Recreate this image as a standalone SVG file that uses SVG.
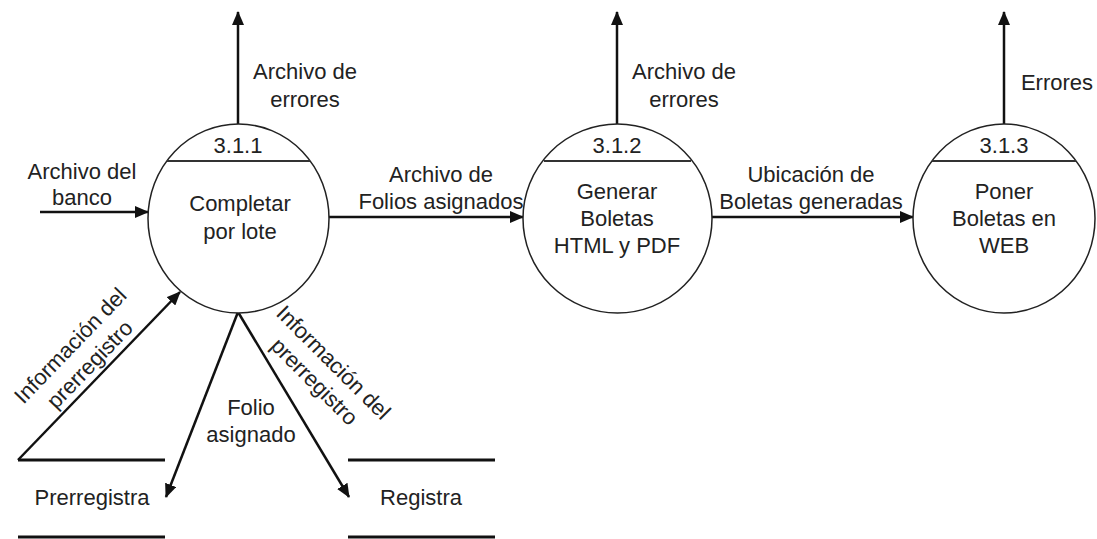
<svg xmlns="http://www.w3.org/2000/svg" width="1097" height="539" viewBox="0 0 1097 539">
<style>
text{font-family:"Liberation Sans",Arial,sans-serif;font-size:22px;fill:#222;text-anchor:middle}
.proc{fill:#fff;stroke:#222;stroke-width:1.5}
.hdr{stroke:#333;stroke-width:2}
.flow{stroke:#111;stroke-width:2.5;fill:none}
.store{stroke:#111;stroke-width:3}
</style>
<defs>
<marker id="ah" markerWidth="14" markerHeight="12" refX="13" refY="6" orient="auto" markerUnits="userSpaceOnUse">
<path d="M0,0 L14,6 L0,12 z" fill="#111"/>
</marker>
</defs>
<g id="connectors">
<line class="flow" x1="238" y1="124" x2="238" y2="12" marker-end="url(#ah)"/>
<line class="flow" x1="617" y1="124" x2="617" y2="12" marker-end="url(#ah)"/>
<line class="flow" x1="1004" y1="124" x2="1004" y2="12" marker-end="url(#ah)"/>
<line class="flow" x1="40" y1="212" x2="148" y2="212" marker-end="url(#ah)"/>
<line class="flow" x1="329" y1="217" x2="523" y2="217" marker-end="url(#ah)"/>
<line class="flow" x1="712" y1="217" x2="913" y2="217" marker-end="url(#ah)"/>
<line class="flow" x1="18" y1="460" x2="180" y2="292" marker-end="url(#ah)"/>
<line class="flow" x1="238" y1="312" x2="166" y2="497" marker-end="url(#ah)"/>
<line class="flow" x1="238" y1="312" x2="349" y2="497" marker-end="url(#ah)"/>
<text x="305" y="79">Archivo de</text>
<text x="305" y="107">errores</text>
<text x="684" y="79">Archivo de</text>
<text x="684" y="107">errores</text>
<text x="1057" y="90">Errores</text>
<text x="82" y="179">Archivo del</text>
<text x="82" y="205">banco</text>
<text x="441" y="182">Archivo de</text>
<text x="441" y="209">Folios asignados</text>
<text x="811" y="182">Ubicación de</text>
<text x="811" y="209">Boletas generadas</text>
<text x="251" y="415">Folio</text>
<text x="251" y="442">asignado</text>
<g transform="translate(80,355) rotate(-46)">
<text x="0" y="-6">Información del</text>
<text x="0" y="21">prerregistro</text>
</g>
<g transform="translate(324,372) rotate(45)">
<text x="0" y="-6">Información del</text>
<text x="0" y="21">prerregistro</text>
</g>
</g>
<g id="p311">
<ellipse class="proc" cx="238.5" cy="218.5" rx="90.5" ry="94.5"/>
<line class="hdr" x1="167" y1="161" x2="310" y2="161"/>
<text x="238" y="153">3.1.1</text>
<text x="240" y="211">Completar</text>
<text x="240" y="239">por lote</text>
</g>
<g id="p312">
<ellipse class="proc" cx="617.5" cy="218.5" rx="94.5" ry="94.5"/>
<line class="hdr" x1="544" y1="161" x2="691" y2="161"/>
<text x="617" y="153">3.1.2</text>
<text x="617" y="199">Generar</text>
<text x="617" y="226">Boletas</text>
<text x="617" y="253">HTML y PDF</text>
</g>
<g id="p313">
<ellipse class="proc" cx="1004" cy="218.5" rx="91" ry="94.5"/>
<line class="hdr" x1="932" y1="161" x2="1076" y2="161"/>
<text x="1004" y="153">3.1.3</text>
<text x="1004" y="199">Poner</text>
<text x="1004" y="226">Boletas en</text>
<text x="1004" y="253">WEB</text>
</g>
<g id="sPrerregistra">
<line class="store" x1="18" y1="460" x2="165" y2="460"/>
<line class="store" x1="18" y1="537" x2="165" y2="537"/>
<text x="92" y="505">Prerregistra</text>
</g>
<g id="sRegistra">
<line class="store" x1="348" y1="460" x2="495" y2="460"/>
<line class="store" x1="348" y1="537" x2="495" y2="537"/>
<text x="421" y="505">Registra</text>
</g>
</svg>
